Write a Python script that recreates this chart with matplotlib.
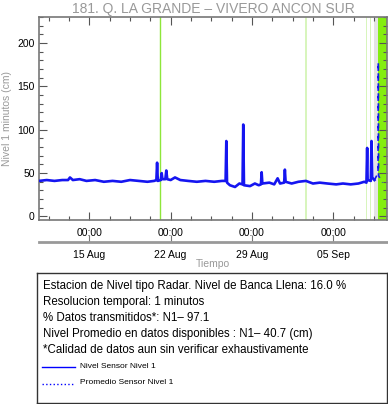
import numpy as np
import pandas as pd
import matplotlib
matplotlib.use("Agg")
import matplotlib.pyplot as plt
import matplotlib.dates as mdates
from matplotlib.ticker import FixedLocator, MultipleLocator

plt.rcParams['font.family'] = ['Liberation Sans', 'DejaVu Sans']

TITLE = "181. Q. LA GRANDE \u2013 VIVERO ANCON SUR"

# nivel sensor 1 (cm)
times = [
    "2023-08-10 16:00", "2023-08-11 08:00", "2023-08-12 00:00", "2023-08-12 16:00",
    "2023-08-13 04:00", "2023-08-13 08:00", "2023-08-13 14:00", "2023-08-14 04:00",
    "2023-08-14 18:00", "2023-08-15 12:00", "2023-08-16 06:00", "2023-08-17 00:00",
    "2023-08-17 18:00", "2023-08-18 12:00", "2023-08-19 06:00", "2023-08-20 00:00",
    "2023-08-20 14:00", "2023-08-20 18:30", "2023-08-20 20:00", "2023-08-20 21:30",
    "2023-08-21 03:30", "2023-08-21 05:30", "2023-08-21 07:00", "2023-08-21 13:00",
    "2023-08-21 15:00", "2023-08-21 17:00", "2023-08-22 00:00", "2023-08-22 09:00",
    "2023-08-22 20:00", "2023-08-23 12:00", "2023-08-24 06:00", "2023-08-25 00:00",
    "2023-08-25 18:00", "2023-08-26 10:00", "2023-08-26 17:30", "2023-08-26 19:00",
    "2023-08-26 20:30", "2023-08-27 02:30", "2023-08-27 13:00", "2023-08-27 22:00",
    "2023-08-28 04:30", "2023-08-28 06:00", "2023-08-28 07:30", "2023-08-28 20:00",
    "2023-08-29 06:00", "2023-08-29 14:00", "2023-08-29 18:30", "2023-08-29 20:00",
    "2023-08-29 21:30", "2023-08-30 12:00", "2023-08-30 22:00", "2023-08-31 05:00",
    "2023-08-31 10:00", "2023-08-31 18:30", "2023-08-31 20:00", "2023-08-31 21:30",
    "2023-09-01 10:00", "2023-09-02 00:00", "2023-09-02 15:30", "2023-09-03 06:00",
    "2023-09-03 20:00", "2023-09-04 12:00", "2023-09-05 06:00", "2023-09-05 20:00",
    "2023-09-06 12:00", "2023-09-07 04:00", "2023-09-07 16:00", "2023-09-07 20:30",
    "2023-09-07 22:00", "2023-09-07 23:00", "2023-09-08 05:30", "2023-09-08 07:00",
    "2023-09-08 08:30", "2023-09-08 13:00",
]
nivel = [
    41, 42, 41, 42,
    42, 45, 42, 43,
    41, 42, 40, 41,
    40, 42, 41, 40,
    41, 42, 62, 41,
    42, 50, 43, 43,
    53, 43, 42, 45,
    42, 41, 40, 41,
    40, 41, 41, 87,
    39, 36, 34, 38,
    37, 106, 36, 35,
    38, 36, 37, 51,
    38, 39, 37, 44,
    38, 39, 54, 40,
    38, 40, 41, 38,
    39, 38, 37, 38,
    37, 38, 40, 39,
    79, 42, 41, 87,
    45, 42,
]

# datos dispersos al final del periodo
times_sparse = ["2023-09-08 13:00", "2023-09-08 20:30", "2023-09-08 21:00",
                "2023-09-08 21:30", "2023-09-09 06:00"]
nivel_sparse = [42, 50, 178, 47, 39]

# datos faltantes
gap_lines_bright = ["2023-08-21 02:40"]
gaps_bright = [("2023-09-08 19:40", "2023-09-09 15:00")]
gaps_pale = [("2023-09-02 14:30", "2023-09-02 18:00"), ("2023-09-07 20:00", "2023-09-07 22:30"),
             ("2023-09-08 04:00", "2023-09-08 06:30")]
gaps_gray = [("2023-09-08 12:00", "2023-09-08 19:40")]

xstart, xend = "2023-08-10 16:00", "2023-09-09 15:00"

info_lines = [
    "Estacion de Nivel tipo Radar. Nivel de Banca Llena: 16.0 %",
    "Resolucion temporal: 1 minutos",
    "% Datos transmitidos*: N1\u2013 97.1",
    "Nivel Promedio en datos disponibles : N1\u2013 40.7 (cm)",
    "*Calidad de datos aun sin verificar exhaustivamente",
]

W, H = 388, 404
fig = plt.figure(figsize=(W / 100, H / 100), dpi=100)


def box(x0, y0, x1, y1):
    return [x0 / W, 1 - y1 / H, (x1 - x0) / W, (y1 - y0) / H]


ax = fig.add_axes(box(39, 17, 387, 219.5))
t = pd.to_datetime(times)
ts = pd.to_datetime(times_sparse)

for a, b in gaps_gray:
    ax.axvspan(pd.Timestamp(a), pd.Timestamp(b), color='#e4e4e4', lw=0, zorder=0)
for a, b in gaps_pale:
    ax.axvspan(pd.Timestamp(a), pd.Timestamp(b), color='#d8f5bd', lw=0, zorder=0)
for a, b in gaps_bright:
    ax.axvspan(pd.Timestamp(a), pd.Timestamp(b), color='#84ee10', lw=0, zorder=0)
for g in gap_lines_bright:
    ax.axvline(pd.Timestamp(g), color='#8ee63a', lw=1, zorder=0)

ax.plot(t, nivel, color='#1515f0', lw=1.9, zorder=3)
ax.plot(ts, nivel_sparse, color='#1515f0', lw=1.2, ls=(0, (3, 3)), zorder=3)

ax.set_xlim(pd.Timestamp(xstart), pd.Timestamp(xend))
ax.set_ylim(-3.5, 230)

major = pd.to_datetime(["2023-08-15", "2023-08-22", "2023-08-29", "2023-09-05"])
major_num = mdates.date2num(major)
minor_num = np.arange(major_num[0] - 3.5, mdates.date2num(pd.Timestamp(xend)), 1.75)
ax.xaxis.set_major_locator(FixedLocator(major_num))
ax.xaxis.set_minor_locator(FixedLocator(minor_num))
ax.xaxis.set_major_formatter(mdates.DateFormatter('%H:%M'))
ax.yaxis.set_major_locator(MultipleLocator(50))
ax.yaxis.set_minor_locator(MultipleLocator(10))
ax.tick_params(which='both', direction='in', top=True, right=True, color='#555555',
               labelsize=7.5, pad=3)
ax.tick_params(which='major', length=6, width=0.8)
ax.tick_params(which='minor', length=3, width=0.8)
ax.tick_params(axis='x', pad=6)
for s in ax.spines.values():
    s.set_color('#777777')
    s.set_linewidth(1.2)

ax.set_ylabel("Nivel 1 minutos (cm)", color='#999999', fontsize=7.5, labelpad=4)
ax.set_title(TITLE, color='#999999', fontsize=10, pad=3)

# eje inferior con fechas
ax2 = fig.add_axes(box(39, 241, 387, 242))
ax2.set_xlim(ax.get_xlim())
ax2.set_yticks([])
ax2.patch.set_visible(False)
for side in ('top', 'left', 'right'):
    ax2.spines[side].set_visible(False)
ax2.spines['bottom'].set_color('#999999')
ax2.spines['bottom'].set_linewidth(2)
ax2.xaxis.set_major_locator(FixedLocator(major_num))
ax2.xaxis.set_major_formatter(mdates.DateFormatter('%d %b'))
ax2.tick_params(axis='x', direction='in', length=5, color='#777777', labelsize=7.5, pad=6)
ax2.set_xlabel("Tiempo", color='#999999', fontsize=7.5, labelpad=-1)

# recuadro de informacion
axi = fig.add_axes(box(37, 272.5, 387, 402.5))
axi.set_xticks([])
axi.set_yticks([])
for s in axi.spines.values():
    s.set_color('#333333')
    s.set_linewidth(1)
axi.set_xlim(37, 387)
axi.set_ylim(402.5, 272.5)
for i, line in enumerate(info_lines):
    axi.text(43, 286 + 15.9 * i, line, fontsize=8.3, va='center', ha='left')
axi.plot([42, 75], [367, 367], color='blue', lw=1)
axi.text(80, 366, "Nivel Sensor Nivel 1", fontsize=6, va='center', ha='left')
axi.plot([42, 75], [384, 384], color='blue', lw=1, ls=':')
axi.text(80, 383, "Promedio Sensor Nivel 1", fontsize=6, va='center', ha='left')

fig.savefig("out.png", dpi=100)
